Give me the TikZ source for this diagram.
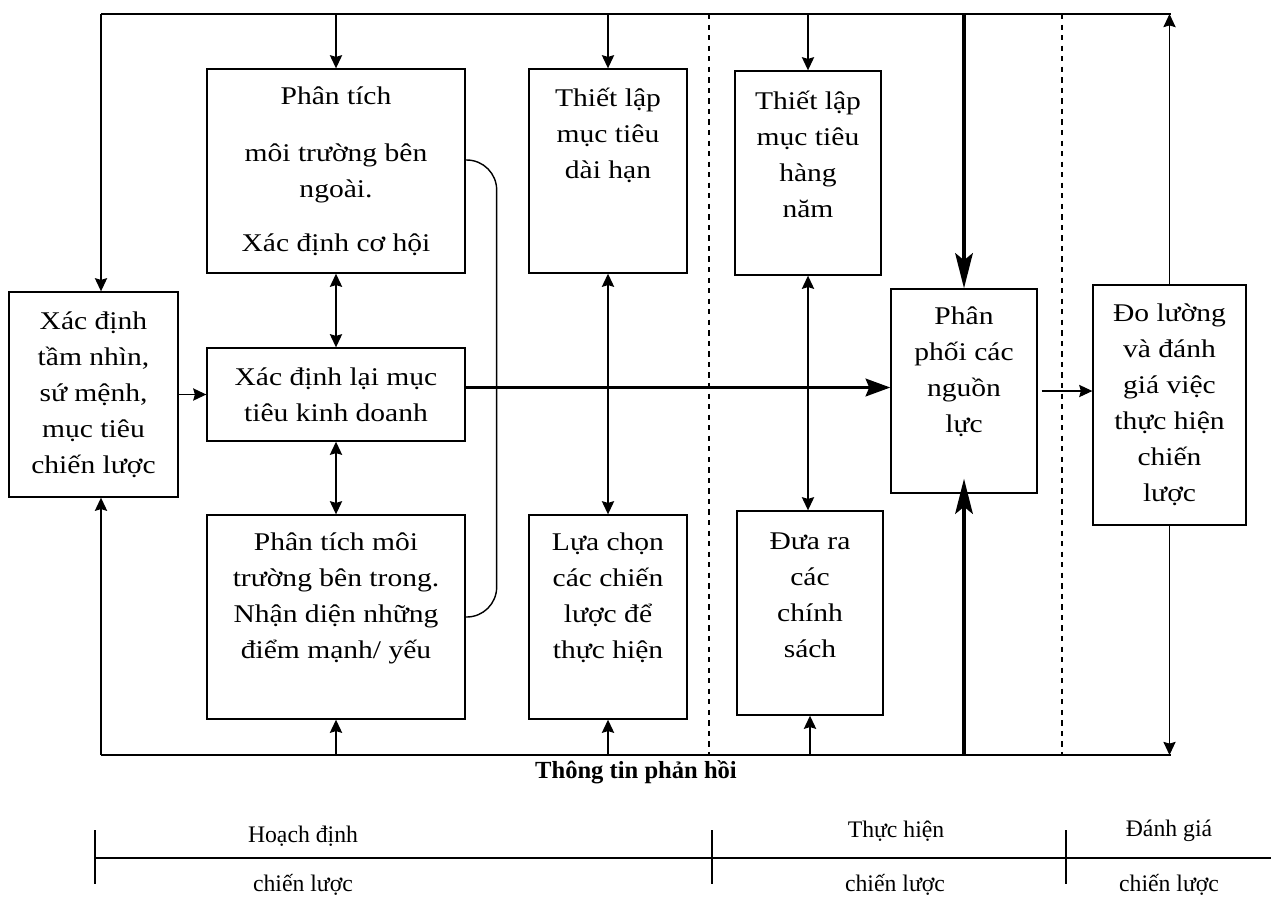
\documentclass[tikz,border=0pt]{standalone}
\usepackage{fontspec}
\setmainfont{Liberation Serif}
\newfontfamily\boxfont[FakeStretch = 1.16]{Liberation Serif}
\usetikzlibrary{arrows.meta}

\tikzset{
	box/.style = {draw, line width = 0.8pt, inner sep = 0pt, align = center,
		font = \boxfont\fontsize{14.5}{20.5}\selectfont},
	txt/.style = {inner sep = 0pt, align = center,
		font = \boxfont\fontsize{14.5}{20.5}\selectfont},
	link/.style = {line width = 0.8pt},
	heavy/.style = {line width = 2pt, -{Stealth[length = 20pt, width = 10pt, inset = 4pt]}},
	phase/.style = {inner sep = 0pt, font = \fontsize{13.5}{16}\selectfont}
}

\begin{document}
\begin{tikzpicture}[x = 0.02cm, y = -0.02cm, > = {Stealth[length = 7.5pt, width = 7pt, inset = 1pt]}]

	\useasboundingbox (0, 0) rectangle (1271, 897);

	% Frame of the feedback loop

	\coordinate (tl) at (101, 14);
	\coordinate (tr) at (1171, 14);
	\coordinate (bl) at (101, 755);
	\coordinate (br) at (1171, 755);

	\draw [link] (tl) -- (tr);
	\draw [link] (bl) -- (br);

	% Phase separators

	\draw [dashed, line width = 0.7pt] (709, 14) -- (709, 755);
	\draw [dashed, line width = 0.7pt] (1062, 14) -- (1062, 755);

	% Boxes

	\node [box, minimum width = 3.38cm, minimum height = 4.10cm] (mission) at (93.5, 394.5)
		{Xác định\\tầm nhìn,\\sứ mệnh,\\mục tiêu\\chiến lược};

	\node [box, minimum width = 5.16cm, minimum height = 4.08cm] (extenv) at (336, 171)
		{Phân tích\\[12pt]môi trường bên\\ngoài.\\[10pt]Xác định cơ hội};
	\node [box, minimum width = 5.16cm, minimum height = 1.86cm] (goals) at (336, 394.5)
		{Xác định lại mục\\tiêu kinh doanh};
	\node [box, minimum width = 5.16cm, minimum height = 4.08cm] (intenv) at (336, 617) {};
	\node [txt] (intenv-txt) at (336, 598)
		{Phân tích môi\\trường bên trong.\\Nhận diện những\\điểm mạnh/ yếu};

	\node [box, minimum width = 3.16cm, minimum height = 4.08cm] (longterm) at (608, 171) {};
	\node [txt] (longterm-txt) at (608, 135) {Thiết lập\\mục tiêu\\dài hạn};
	\node [box, minimum width = 3.16cm, minimum height = 4.08cm] (choice) at (608, 617) {};
	\node [txt] (choice-txt) at (608, 598) {Lựa chọn\\các chiến\\lược để\\thực hiện};

	\node [box, minimum width = 2.92cm, minimum height = 4.08cm] (annual) at (808, 173) {};
	\node [txt] (annual-txt) at (808, 154) {Thiết lập\\mục tiêu\\hàng\\năm};
	\node [box, minimum width = 2.92cm, minimum height = 4.08cm] (policy) at (810, 613) {};
	\node [txt] (policy-txt) at (810, 595) {Đưa ra\\các\\chính\\sách};

	\node [box, minimum width = 2.92cm, minimum height = 4.08cm] (resources) at (964, 391) {};
	\node [txt] (resources-txt) at (964, 372) {Phân\\phối các\\nguồn\\lực};

	\node [box, minimum width = 3.06cm, minimum height = 4.80cm] (evaluate) at (1169.5, 405)
		{Đo lường\\và đánh\\giá việc\\thực hiện\\chiến\\lược};

	% Arrows from the top line

	\draw [link, ->] (tl) -- (tl |- mission.north);
	\draw [link, ->] (extenv.north |- tl) -- (extenv.north);
	\draw [link, ->] (longterm.north |- tl) -- (longterm.north);
	\draw [link, ->] (annual.north |- tl) -- (annual.north);
	\draw [heavy] (resources.north |- tl) -- (resources.north);
	\draw [line width = 0.6pt, ->] (evaluate.north) -- (evaluate.north |- tr);

	% Arrows from the bottom line

	\draw [link, ->] (bl) -- (bl |- mission.south);
	\draw [link, ->] (intenv.south |- bl) -- (intenv.south);
	\draw [link, ->] (choice.south |- bl) -- (choice.south);
	\draw [link, ->] (policy.south |- bl) -- (policy.south);
	\draw [heavy] (resources.south |- bl) -- ([yshift = 0.3cm]resources.south);
	\draw [line width = 0.6pt, ->] (evaluate.south) -- (evaluate.south |- br);

	% Links between boxes

	\draw [link, <->] (extenv.south) -- (goals.north);
	\draw [link, <->] (goals.south) -- (intenv.north);
	\draw [link, <->] (longterm.south) -- (choice.north);
	\draw [link, <->] (annual.south) -- (annual.south |- policy.north);
	\draw [link, ->] (mission.east) -- (goals.west);
	\draw [heavy, -{Stealth[length = 14pt, width = 10pt, inset = 2pt]}]
		([yshift = 0.14cm]goals.east) -- ([yshift = 0.14cm]goals.east -| resources.west);
	\draw [line width = 0.6pt, ->] ([xshift = 0.08cm]resources.east) -- (resources.east -| evaluate.west);

	\draw [link, rounded corners = 0.6cm] ([yshift = 0.22cm]extenv.east) -- ++(31, 0) |- (intenv.east);

	% Feedback label

	\node [inner sep = 0pt, font = \fontsize{14}{16}\selectfont\bfseries] (feedback) at (636, 772)
		{Thông tin phản hồi};

	% Phases of the process

	\draw [link] (95, 858) -- (1271, 858);
	\foreach \x in {95, 712, 1066}
		\draw [link] (\x, 830) -- (\x, 884);

	\node [phase] (plan-top) at (303, 836) {Hoạch định};
	\node [phase] (plan-bot) at (303, 885) {chiến lược};
	\node [phase] (act-top) at (896, 831) {Thực hiện};
	\node [phase] (act-bot) at (895, 885) {chiến lược};
	\node [phase] (eval-top) at (1169, 831) {Đánh giá};
	\node [phase] (eval-bot) at (1169, 885) {chiến lược};

\end{tikzpicture}
\end{document}
